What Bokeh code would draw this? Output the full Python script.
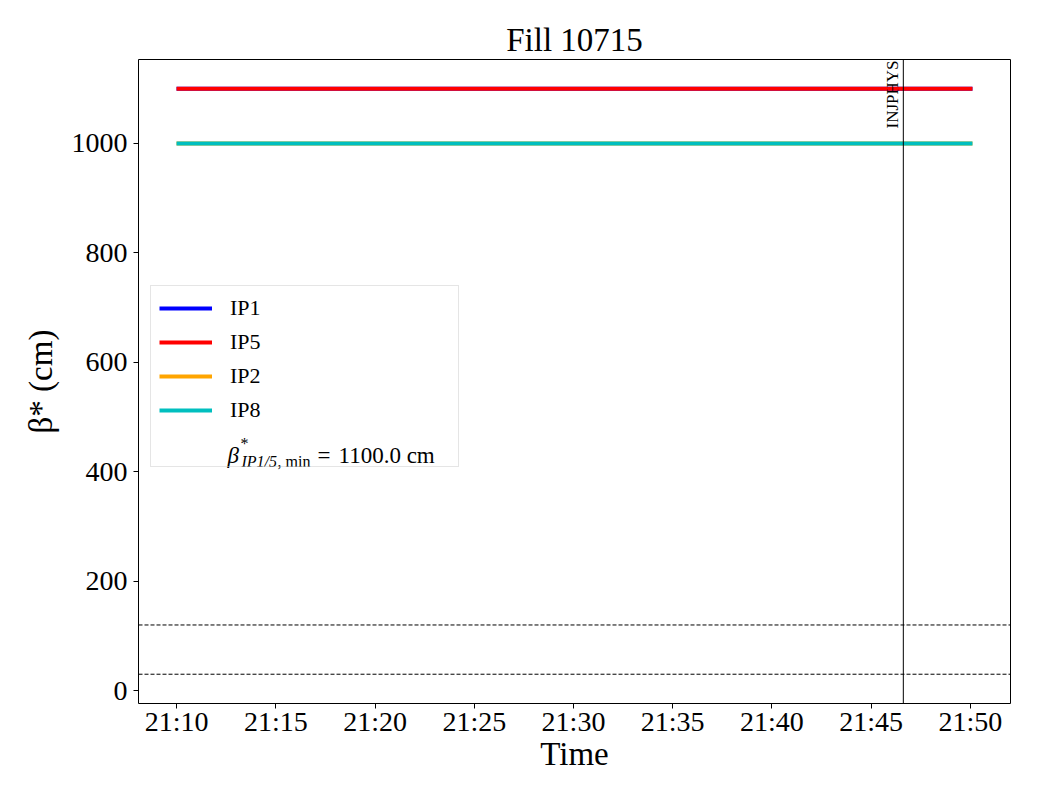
import math
import pandas as pd
from bokeh.plotting import figure
from bokeh.models import Range1d, Span, Label, Legend, LegendItem, FixedTicker, DatetimeTickFormatter
from bokeh.embed import file_html
from bokeh.resources import INLINE

# ---------------- data ----------------
DATE = "2025-06-20"
title_text = "Fill 10715"
times = ["21:10:00", "21:50:06"]
ip1 = [1100.0, 1100.0]
ip5 = [1100.0, 1100.0]
ip2 = [1000.0, 1000.0]
ip8 = [1000.0, 1000.0]
series_names = ["IP1", "IP5", "IP2", "IP8"]
series_values = [ip1, ip5, ip2, ip8]
series_colors = ["#0000ff", "#ff0000", "#ffa500", "#00bfbf"]
ref_levels = [120.0, 30.0]
mode_time = "21:46:37"
mode_name = "INJPHYS"
beta_min = 1100.0
tick_labels = ["21:10", "21:15", "21:20", "21:25", "21:30", "21:35", "21:40", "21:45", "21:50"]
y_ticks = [0, 200, 400, 600, 800, 1000]
x_limits = ["21:08:05", "21:52:01"]
y_limits = [-23.5, 1153.5]

FONT = "Liberation Serif"


def to_ms(t):
    return pd.Timestamp(f"{DATE} {t}").value / 1e6


x_ms = [to_ms(t) for t in times]

p = figure(width=1032, height=792, output_backend="svg", toolbar_location=None,
           x_axis_type="datetime",
           x_range=Range1d(to_ms(x_limits[0]), to_ms(x_limits[1])),
           y_range=Range1d(y_limits[0], y_limits[1]),
           min_border_left=138, min_border_right=22, min_border_top=59, min_border_bottom=89,
           title=title_text)

p.background_fill_color = "white"
p.border_fill_color = "white"
p.outline_line_color = "black"
p.outline_line_width = 1
p.outline_line_alpha = 1.0
p.xgrid.visible = False
p.ygrid.visible = False

p.title.text_font = FONT
p.title.text_font_size = "33px"
p.title.text_font_style = "normal"
p.title.text_color = "black"
p.title.align = "center"
p.title.offset = 0
p.title.standoff = 4

# axes
p.xaxis.ticker = FixedTicker(ticks=[to_ms(t + ":00") for t in tick_labels])
p.xaxis.formatter = DatetimeTickFormatter(seconds="%H:%M", minsec="%H:%M", minutes="%H:%M",
                                          hourmin="%H:%M", hours="%H:%M")
p.yaxis.ticker = FixedTicker(ticks=y_ticks)
for ax in (p.xaxis[0], p.yaxis[0]):
    ax.axis_line_color = None
    ax.major_tick_line_color = "black"
    ax.major_tick_out = 5
    ax.major_tick_in = 0
    ax.minor_tick_line_color = None
    ax.major_label_text_font = FONT
    ax.major_label_text_font_size = "28px"
    ax.major_label_text_color = "black"
    ax.axis_label_text_font = FONT
    ax.axis_label_text_font_size = "33px"
    ax.axis_label_text_font_style = "normal"
    ax.axis_label_text_color = "black"
p.xaxis.axis_label = "Time"
p.yaxis.axis_label = "β* (cm)"
p.xaxis.major_label_standoff = -3
p.xaxis.axis_label_standoff = -4
p.yaxis.major_label_standoff = 6
p.yaxis.axis_label_standoff = 10

# series
renderers = []
for name, vals, col in zip(series_names, series_values, series_colors):
    r = p.line(x_ms, vals, line_color=col, line_width=4)
    renderers.append(r)
dummy = p.line(x_ms, ip5, line_alpha=0.0)

# reference levels
for lv in ref_levels:
    p.add_layout(Span(location=lv, dimension="width", line_color="black",
                      line_width=1, line_dash="4 2"))

# beam mode marker
mx = to_ms(mode_time)
p.add_layout(Span(location=mx, dimension="height", line_color="black", line_width=1))
p.add_layout(Label(x=mx, y=y_limits[1], text=mode_name, angle=math.pi / 2,
                   text_align="right", text_baseline="bottom", x_offset=-1, y_offset=-1,
                   text_font=FONT, text_font_size="17px", text_color="black"))

# legend
items = [LegendItem(label=n, renderers=[r]) for n, r in zip(series_names, renderers)]
items.append(LegendItem(label="\u2003" * 10, renderers=[dummy]))
legend = Legend(items=items, location=(12, 236), orientation="vertical",
                label_text_font=FONT, label_text_font_size="22px", label_text_color="black",
                glyph_width=53, glyph_height=28, label_height=28, label_standoff=18,
                spacing=6, padding=8, margin=0,
                border_line_color="#cccccc", border_line_width=1,
                background_fill_color="white", background_fill_alpha=0.0)
p.add_layout(legend)

# beta min annotation inside legend (page coords -> frame coords)
FL, FB = 138, 703
def lab(px, py, text, size, style="normal", baseline="alphabetic"):
    p.add_layout(Label(x=px - FL, y=FB - py, x_units="screen", y_units="screen",
                       text=text, text_font=FONT, text_font_size=size, level="overlay",
                       text_font_style=style, text_baseline=baseline, text_color="black"))

lab(227, 455, "β", "23px", "italic")
lab(240, 434, "*", "16px", "normal", "top")
lab(241, 461, "IP1/5", "16px", "italic")
lab(277, 461, ", min", "16px")
lab(317, 455, "=", "23px")
lab(338, 455, f"{beta_min:.1f} cm", "23px")

open("out.html", "w").write(file_html(p, INLINE))
